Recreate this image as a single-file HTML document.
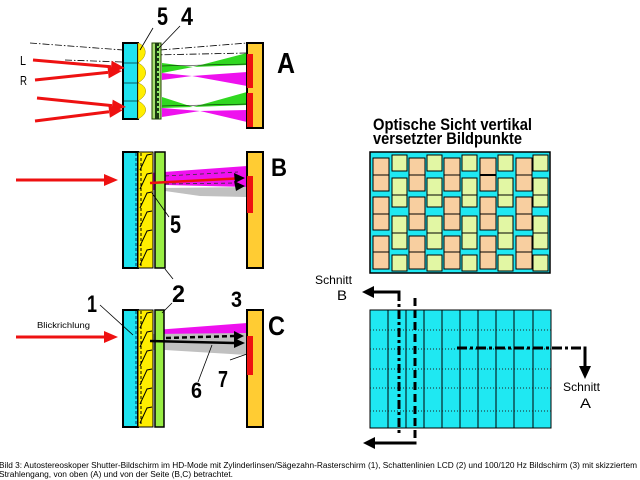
<!DOCTYPE html>
<html><head><meta charset="utf-8"><style>
html,body{margin:0;padding:0;background:#fff;}
svg{display:block;}
text{font-family:"Liberation Sans",sans-serif;fill:#000;}
</style></head><body>
<svg width="640" height="480" viewBox="0 0 640 480" xmlns="http://www.w3.org/2000/svg">
<rect x="0" y="0" width="640" height="480" fill="#fff"/>

<!-- ===== Diagram A ===== -->
<g stroke="#000" stroke-width="0.8" fill="none" stroke-dasharray="7,2,1.5,2">
  <path d="M30,43 L123,50"/>
  <path d="M160,50 L247,43"/>
  <path d="M152,55 L247,53"/>
  <path d="M65,60 L123,62"/>
</g>
<polygon points="162,63 162,73 193,67" fill="#30d820"/>
<polygon points="193,67 247,53 247,65" fill="#30d820"/>
<polygon points="162,73 162,80 192,76" fill="#ee11ee"/>
<polygon points="192,76 247,72 247,86" fill="#ee11ee"/>
<polygon points="162,97 162,108 193,107" fill="#30d820"/>
<polygon points="193,107 247,92 247,105" fill="#30d820"/>
<polygon points="162,108 162,117 200,111" fill="#ee11ee"/>
<polygon points="200,111 247,110 247,122" fill="#ee11ee"/>
<g stroke="#000" stroke-width="0.5">
  <line x1="162" y1="66" x2="247" y2="64"/>
  <line x1="162" y1="106" x2="247" y2="104"/>
</g>
<rect x="123" y="43" width="15" height="76" fill="#1fe3ef" stroke="#000" stroke-width="2"/>
<g stroke="#000" stroke-width="0.6">
  <line x1="124" y1="63" x2="138" y2="63"/>
  <line x1="124" y1="83" x2="138" y2="83"/>
  <line x1="124" y1="101" x2="138" y2="101"/>
</g>
<g fill="#ffee00" stroke="#998800" stroke-width="0.5">
  <path d="M138,43 C145,45 150,55 138,63 Z"/>
  <path d="M138,63 C145,66 151,75 138,83 Z"/>
  <path d="M138,83 C145,85 151,93 138,101 Z"/>
  <path d="M138,101 C145,104 151,112 138,119 Z"/>
</g>
<rect x="152" y="43" width="9" height="76" fill="#a8e070" stroke="#224400" stroke-width="1"/>
<rect x="155" y="43" width="4" height="76" fill="#1a3a10"/>
<g fill="#88ee66">
  <rect x="157" y="46" width="2" height="2"/><rect x="157" y="51" width="2" height="2"/>
  <rect x="157" y="56" width="2" height="2"/><rect x="157" y="61" width="2" height="2"/>
  <rect x="157" y="66" width="2" height="2"/><rect x="157" y="71" width="2" height="2"/>
  <rect x="157" y="76" width="2" height="2"/><rect x="157" y="81" width="2" height="2"/>
  <rect x="157" y="86" width="2" height="2"/><rect x="157" y="91" width="2" height="2"/>
  <rect x="157" y="96" width="2" height="2"/><rect x="157" y="101" width="2" height="2"/>
  <rect x="157" y="106" width="2" height="2"/><rect x="157" y="111" width="2" height="2"/>
</g>
<rect x="247" y="43" width="16" height="85" fill="#ffcc33" stroke="#000" stroke-width="2"/>
<rect x="247" y="54" width="6" height="34" fill="#ee1111"/>
<rect x="247" y="93" width="6" height="34" fill="#ee1111"/>
<g stroke="#ee1111" stroke-width="3">
  <line x1="33" y1="60" x2="111" y2="66.8"/>
  <line x1="35" y1="80" x2="108" y2="72.4"/>
  <line x1="37" y1="98" x2="112" y2="105.6"/>
  <line x1="35" y1="121" x2="109" y2="111.7"/>
</g>
<g fill="#ee1111">
  <polygon points="125,68 110.6,72.8 111.6,60.8"/>
  <polygon points="122,71 108.7,78.4 107.5,66.4"/>
  <polygon points="126,107 111.5,111.6 112.7,99.6"/>
  <polygon points="123,110 109.9,117.7 108.4,105.8"/>
</g>
<text x="20" y="65" font-size="13" textLength="6" lengthAdjust="spacingAndGlyphs">L</text>
<text x="20" y="85" font-size="13" textLength="7" lengthAdjust="spacingAndGlyphs">R</text>
<text x="157" y="25" font-size="25" font-weight="bold" textLength="11" lengthAdjust="spacingAndGlyphs">5</text>
<text x="181" y="25" font-size="25" font-weight="bold" textLength="12" lengthAdjust="spacingAndGlyphs">4</text>
<g stroke="#000" stroke-width="0.8">
  <line x1="153" y1="28" x2="140" y2="50"/>
  <line x1="180" y1="26" x2="157" y2="50"/>
</g>
<text x="277" y="73" font-size="29" font-weight="bold" textLength="18" lengthAdjust="spacingAndGlyphs">A</text>

<!-- ===== Diagram B ===== -->
<polygon points="150,173 247,166 247,187 165,185 165,190 150,190" fill="#ee11ee"/>
<polygon points="165,188 247,187 247,197 200,196 165,191" fill="#c0c0c0"/>
<g stroke="#333" stroke-width="0.8" stroke-dasharray="4,3">
  <line x1="165" y1="176" x2="238" y2="172"/>
  <line x1="165" y1="184" x2="238" y2="183"/>
</g>
<rect x="123" y="152" width="15" height="116" fill="#1fe3ef" stroke="#000" stroke-width="2"/>
<line x1="136" y1="153" x2="136" y2="267" stroke="#003366" stroke-width="1" stroke-dasharray="3,2"/>
<rect x="138" y="152" width="15" height="116" fill="#ffee00" stroke="#000" stroke-width="1"/>
<line x1="141" y1="153" x2="141" y2="267" stroke="#000" stroke-width="1" stroke-dasharray="3,2"/>
<g stroke="#000" stroke-width="1" fill="none">
  <polyline points="140,170 147,155 152,154"/>
  <polyline points="140,189 147,174 152,173"/>
  <polyline points="140,208 147,193 152,192"/>
  <polyline points="140,227 147,212 152,211"/>
  <polyline points="140,246 147,231 152,230"/>
  <polyline points="140,265 147,250 152,249"/>
</g>
<rect x="155" y="152" width="10" height="116" fill="#99ee44" stroke="#000" stroke-width="1.5"/>
<rect x="247" y="152" width="16" height="116" fill="#ffcc33" stroke="#000" stroke-width="2"/>
<rect x="247" y="176" width="6" height="37" fill="#ee1111"/>
<line x1="150" y1="183" x2="236" y2="178.5" stroke="#ee1111" stroke-width="2.5"/>
<polygon points="245,178 234,173 235,183" fill="#000"/>
<polygon points="245,186 234,181 236,191" fill="#000"/>
<line x1="16" y1="180" x2="104" y2="180" stroke="#ee1111" stroke-width="3"/>
<polygon points="118,180 104,174 104,186" fill="#ee1111"/>
<text x="170" y="233" font-size="25" font-weight="bold" textLength="11" lengthAdjust="spacingAndGlyphs">5</text>
<line x1="152" y1="193" x2="169" y2="217" stroke="#000" stroke-width="0.8"/>
<text x="271" y="176" font-size="25" font-weight="bold" textLength="16" lengthAdjust="spacingAndGlyphs">B</text>

<!-- ===== Diagram C ===== -->
<polygon points="155,330 247,323 247,335 165,334" fill="#ee11ee"/>
<polygon points="150,334 247,333 247,355 165,350 150,350" fill="#c0c0c0"/>
<rect x="123" y="310" width="15" height="117" fill="#1fe3ef" stroke="#000" stroke-width="2"/>
<line x1="136" y1="311" x2="136" y2="426" stroke="#003366" stroke-width="1" stroke-dasharray="3,2"/>
<rect x="138" y="310" width="15" height="117" fill="#ffee00" stroke="#000" stroke-width="1"/>
<line x1="141" y1="311" x2="141" y2="426" stroke="#000" stroke-width="1" stroke-dasharray="3,2"/>
<g stroke="#000" stroke-width="1" fill="none">
  <polyline points="140,328 147,313 152,312"/>
  <polyline points="140,347 147,332 152,331"/>
  <polyline points="140,366 147,351 152,350"/>
  <polyline points="140,385 147,370 152,369"/>
  <polyline points="140,404 147,389 152,388"/>
  <polyline points="140,423 147,408 152,407"/>
</g>
<rect x="155" y="310" width="9" height="117" fill="#99ee44" stroke="#000" stroke-width="1.5"/>
<rect x="247" y="310" width="16" height="117" fill="#ffcc33" stroke="#000" stroke-width="2"/>
<rect x="247" y="336" width="6" height="39" fill="#ee1111"/>
<line x1="150" y1="341" x2="234" y2="343" stroke="#000" stroke-width="2.5"/>
<polygon points="245,343 234,338 234,348" fill="#000"/>
<line x1="166" y1="338" x2="234" y2="336" stroke="#000" stroke-width="2.5" stroke-dasharray="5,3"/>
<polygon points="244,336 234,331 234,341" fill="#000"/>
<line x1="16" y1="337" x2="104" y2="337" stroke="#ee1111" stroke-width="3"/>
<polygon points="118,337 104,331 104,343" fill="#ee1111"/>
<text x="37" y="328" font-size="8.5" textLength="53" lengthAdjust="spacingAndGlyphs">Blickrichlung</text>
<text x="87" y="312" font-size="24" font-weight="bold" textLength="10" lengthAdjust="spacingAndGlyphs">1</text>
<text x="172" y="302" font-size="24" font-weight="bold" textLength="13" lengthAdjust="spacingAndGlyphs">2</text>
<text x="231" y="307" font-size="22" font-weight="bold" textLength="11" lengthAdjust="spacingAndGlyphs">3</text>
<text x="191" y="398" font-size="22" font-weight="bold" textLength="11" lengthAdjust="spacingAndGlyphs">6</text>
<text x="218" y="387" font-size="23" font-weight="bold" textLength="10" lengthAdjust="spacingAndGlyphs">7</text>
<g stroke="#000" stroke-width="0.8">
  <line x1="100" y1="305" x2="133" y2="335"/>
  <line x1="165" y1="269" x2="173" y2="279"/>
  <line x1="172" y1="303" x2="162" y2="313"/>
  <line x1="198" y1="382" x2="212" y2="345"/>
  <line x1="230" y1="360" x2="247" y2="354"/>
</g>
<text x="268" y="335" font-size="27" font-weight="bold" textLength="17" lengthAdjust="spacingAndGlyphs">C</text>

<!-- ===== Title ===== -->
<text x="373" y="130" font-size="17" font-weight="bold" textLength="159" lengthAdjust="spacingAndGlyphs">Optische Sicht vertikal</text>
<text x="373" y="144" font-size="17" font-weight="bold" textLength="149" lengthAdjust="spacingAndGlyphs">versetzter Bildpunkte</text>

<!-- ===== Top grid ===== -->
<rect x="370" y="152" width="180" height="121" fill="#1fe8f2" stroke="#000" stroke-width="1.5"/>
<g fill="#f8cfa0" stroke="#000" stroke-width="1">
  <rect x="373" y="158" width="16" height="17"/><rect x="373" y="175" width="16" height="16"/>
  <rect x="373" y="197" width="16" height="17"/><rect x="373" y="214" width="16" height="16"/>
  <rect x="373" y="236" width="16" height="16"/><rect x="373" y="252" width="16" height="17"/>
  <rect x="409" y="158" width="16" height="17"/><rect x="409" y="175" width="16" height="16"/>
  <rect x="409" y="197" width="16" height="17"/><rect x="409" y="214" width="16" height="16"/>
  <rect x="409" y="236" width="16" height="16"/><rect x="409" y="252" width="16" height="17"/>
  <rect x="444" y="158" width="16" height="17"/><rect x="444" y="175" width="16" height="16"/>
  <rect x="444" y="197" width="16" height="17"/><rect x="444" y="214" width="16" height="16"/>
  <rect x="444" y="236" width="16" height="16"/><rect x="444" y="252" width="16" height="17"/>
  <rect x="480" y="158" width="16" height="17"/><rect x="480" y="175" width="16" height="16"/>
  <rect x="480" y="197" width="16" height="17"/><rect x="480" y="214" width="16" height="16"/>
  <rect x="480" y="236" width="16" height="16"/><rect x="480" y="252" width="16" height="17"/>
  <rect x="516" y="158" width="16" height="17"/><rect x="516" y="175" width="16" height="16"/>
  <rect x="516" y="197" width="16" height="17"/><rect x="516" y="214" width="16" height="16"/>
  <rect x="516" y="236" width="16" height="16"/><rect x="516" y="252" width="16" height="17"/>
</g>
<g fill="#e2f7a4" stroke="#000" stroke-width="1">
  <rect x="392" y="155" width="15" height="16"/><rect x="392" y="178" width="15" height="17"/><rect x="392" y="195" width="15" height="12"/>
  <rect x="392" y="216" width="15" height="17"/><rect x="392" y="233" width="15" height="16"/><rect x="392" y="255" width="15" height="16"/>
  <rect x="427" y="155" width="15" height="16"/><rect x="427" y="178" width="15" height="17"/><rect x="427" y="195" width="15" height="12"/>
  <rect x="427" y="216" width="15" height="17"/><rect x="427" y="233" width="15" height="16"/><rect x="427" y="255" width="15" height="16"/>
  <rect x="462" y="155" width="15" height="16"/><rect x="462" y="178" width="15" height="17"/><rect x="462" y="195" width="15" height="12"/>
  <rect x="462" y="216" width="15" height="17"/><rect x="462" y="233" width="15" height="16"/><rect x="462" y="255" width="15" height="16"/>
  <rect x="498" y="155" width="15" height="16"/><rect x="498" y="178" width="15" height="17"/><rect x="498" y="195" width="15" height="12"/>
  <rect x="498" y="216" width="15" height="17"/><rect x="498" y="233" width="15" height="16"/><rect x="498" y="255" width="15" height="16"/>
  <rect x="533" y="155" width="15" height="16"/><rect x="533" y="178" width="15" height="17"/><rect x="533" y="195" width="15" height="12"/>
  <rect x="533" y="216" width="15" height="17"/><rect x="533" y="233" width="15" height="16"/><rect x="533" y="255" width="15" height="16"/>
</g>
<line x1="480" y1="175" x2="496" y2="175" stroke="#000" stroke-width="2"/>

<!-- ===== Bottom grid ===== -->
<rect x="370" y="310" width="181" height="118" fill="#1fe8f2" stroke="#000" stroke-width="1"/>
<g stroke="#000" stroke-width="1">
  <line x1="388" y1="310" x2="388" y2="428"/><line x1="406" y1="310" x2="406" y2="428"/>
  <line x1="424" y1="310" x2="424" y2="428"/><line x1="442" y1="310" x2="442" y2="428"/>
  <line x1="460" y1="310" x2="460" y2="428"/><line x1="478" y1="310" x2="478" y2="428"/>
  <line x1="496" y1="310" x2="496" y2="428"/><line x1="514" y1="310" x2="514" y2="428"/>
  <line x1="533" y1="310" x2="533" y2="428"/>
</g>
<g stroke="#222" stroke-width="1" stroke-dasharray="1,2">
  <line x1="370" y1="330" x2="551" y2="330"/><line x1="370" y1="349" x2="551" y2="349"/>
  <line x1="370" y1="369" x2="551" y2="369"/><line x1="370" y1="388" x2="551" y2="388"/>
  <line x1="370" y1="411" x2="551" y2="411"/>
</g>
<line x1="399" y1="292" x2="399" y2="433" stroke="#000" stroke-width="3" stroke-dasharray="9,3,3,3"/>
<line x1="400.5" y1="292" x2="372" y2="292" stroke="#000" stroke-width="3"/>
<polygon points="362,292 374,286 374,298" fill="#000"/>
<line x1="415" y1="298" x2="415" y2="443" stroke="#000" stroke-width="3" stroke-dasharray="8,4"/>
<line x1="416.5" y1="443" x2="372" y2="443" stroke="#000" stroke-width="3"/>
<polygon points="363,443 375,437 375,449" fill="#000"/>
<line x1="457" y1="348" x2="585" y2="348" stroke="#000" stroke-width="3" stroke-dasharray="10,3,3,3"/>
<line x1="585" y1="346.5" x2="585" y2="368" stroke="#000" stroke-width="3"/>
<polygon points="585,379 579,366 591,366" fill="#000"/>
<text x="315" y="284" font-size="12" textLength="37" lengthAdjust="spacingAndGlyphs">Schnitt</text>
<text x="337" y="300" font-size="14" textLength="10" lengthAdjust="spacingAndGlyphs">B</text>
<text x="563" y="391" font-size="12" textLength="37" lengthAdjust="spacingAndGlyphs">Schnitt</text>
<text x="580" y="408" font-size="14" textLength="11" lengthAdjust="spacingAndGlyphs">A</text>

<!-- ===== Caption ===== -->
<text x="-1" y="468" font-size="8" textLength="638" lengthAdjust="spacingAndGlyphs">Bild 3: Autostereoskoper Shutter-Bildschirm im HD-Mode mit Zylinderlinsen/Sägezahn-Rasterschirm (1), Schattenlinien LCD (2) und 100/120 Hz Bildschirm (3) mit skizziertem</text>
<text x="-1" y="477" font-size="8" textLength="234" lengthAdjust="spacingAndGlyphs">Strahlengang, von oben (A) und von der Seite (B,C) betrachtet.</text>
</svg>
</body></html>
